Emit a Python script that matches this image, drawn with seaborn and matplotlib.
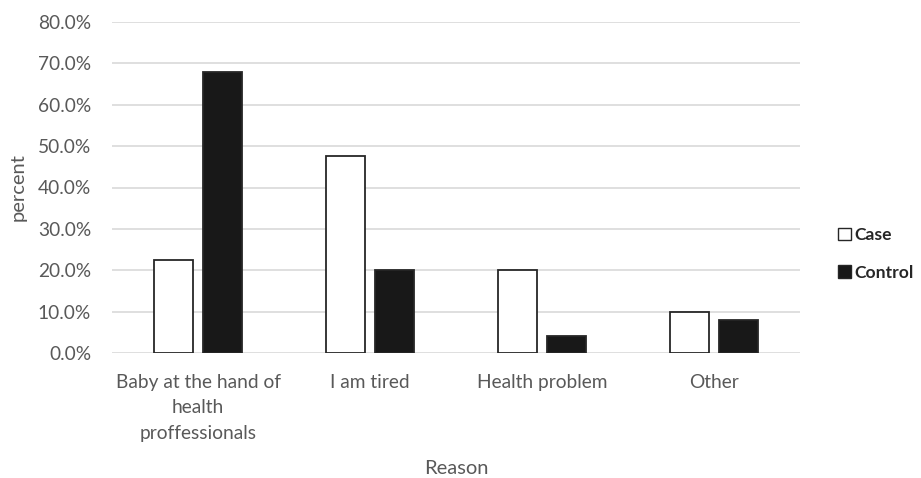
import matplotlib
matplotlib.use("Agg")
import matplotlib.pyplot as plt
from matplotlib.patches import Patch
import pandas as pd
import seaborn as sns

reasons = ["Baby at the hand of\nhealth\nproffessionals", "I am tired", "Health problem", "Other"]
groups = ["Case", "Control"]
case_pct = [22.5, 47.5, 20.0, 10.0]
control_pct = [68.0, 20.0, 4.0, 8.0]
y_ticks = [0, 10, 20, 30, 40, 50, 60, 70, 80]

df = pd.DataFrame({
    "Reason": reasons * 2,
    "group": ["Case"] * len(reasons) + ["Control"] * len(reasons),
    "percent": case_pct + control_pct,
})

sns.set_theme(style="white")
plt.rcParams["font.family"] = ["Lato", "DejaVu Sans"]

fig = plt.figure(figsize=(9.21, 4.78), dpi=100)
ax = fig.add_axes([112 / 921, 1 - 353 / 478, 688 / 921, 331 / 478])

palette = {"Case": "#ffffff", "Control": "#181818"}
sns.barplot(data=df, x="Reason", y="percent", hue="group", hue_order=groups,
            palette=palette, width=0.57, gap=0.2, ax=ax, legend=False,
            edgecolor="#262626", linewidth=1.3, saturation=1)

ax.set_ylim(0, 80)
ax.set_xlim(-0.5, 3.5)
ax.set_yticks(y_ticks)
ax.set_yticklabels([f"{v:.1f}%" for v in y_ticks])
ax.yaxis.grid(True, color="#d9d9d9", linewidth=1.2)
ax.set_axisbelow(True)
for s in ax.spines.values():
    s.set_visible(False)
ax.tick_params(axis="both", length=0, labelsize=13.8, colors="#595959")
ax.tick_params(axis="y", pad=15)
ax.tick_params(axis="x", pad=15)
for lbl in ax.get_xticklabels():
    lbl.set_linespacing(1.6)

ax.set_xlabel("Reason", fontsize=14.5, color="#595959", labelpad=13)
ax.set_ylabel("percent", fontsize=14.5, color="#595959", labelpad=8)

handles = [Patch(facecolor=palette[g], edgecolor="#262626", linewidth=1.0) for g in groups]
leg = fig.legend(handles, groups, loc="center left", bbox_to_anchor=(822 / 921, 1 - 254 / 478),
                 frameon=False, handlelength=0.75, handleheight=0.75, handletextpad=0.2,
                 labelspacing=1.25, prop={"weight": "bold", "size": 12.6})

fig.savefig("out.png", dpi=100)
